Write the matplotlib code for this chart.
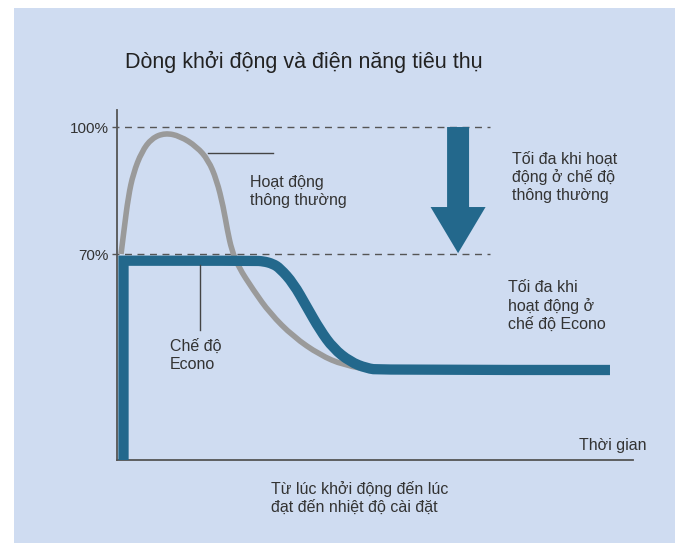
import matplotlib.pyplot as plt
from matplotlib.patches import Rectangle, PathPatch
from matplotlib.path import Path

plt.rcParams['font.family'] = ['Liberation Sans', 'DejaVu Sans']

# time axis 0..100 (arbitrary units), current in % of max
gray_t = [0.78, 1.36, 2.19, 3.16, 4.79, 6.72, 9.30, 12.21, 15.45, 17.69, 19.32,
          20.60, 21.38, 22.23, 23.51, 26.41, 29.65, 34.17, 39.34, 43.86, 47.09]
gray_v = [70.0, 75.67, 83.54, 89.06, 94.17, 97.33, 98.6, 97.87, 95.35, 92.20, 87.48,
          81.17, 75.67, 70.94, 67.00, 61.50, 55.99, 50.47, 46.14, 43.78, 43.07]

econo_t = [1.26, 1.26, 26.5, 28.35, 30.2, 31.59, 34.17, 36.76, 39.34, 41.92, 45.16,
           48.39, 50.97, 95.54]
econo_v = [21.34, 68.42, 68.42, 68.30, 67.70, 66.62, 63.08, 57.55, 52.05, 47.72, 44.56,
           43.00, 42.60, 42.60]

ytick_vals = [70, 100]
ytick_labels = ['70%', '100%']

title = 'Dòng khởi động và điện năng tiêu thụ'
bg = '#cfdcf1'
blue = '#23688c'
grey = '#9a9a9a'
txt = '#333333'


def smooth_path(xs, ys, straight=0):
    # first `straight` segments are plain lines, the rest quadratic curves
    pts = list(zip(xs, ys))
    verts = [pts[0]]
    codes = [Path.MOVETO]
    for p in pts[1:straight + 1]:
        verts.append(p)
        codes.append(Path.LINETO)
    rest = pts[straight:]
    for i in range(1, len(rest) - 1):
        mid = ((rest[i][0] + rest[i + 1][0]) / 2, (rest[i][1] + rest[i + 1][1]) / 2)
        if i == len(rest) - 2:
            mid = rest[-1]
        verts += [rest[i], mid]
        codes += [Path.CURVE3, Path.CURVE3]
    return Path(verts, codes)


fig = plt.figure(figsize=(6.75, 5.43), dpi=100)
fig.patches.append(Rectangle((14 / 675, 0), 1, 1 - 8 / 543, transform=fig.transFigure,
                             facecolor=bg, edgecolor='none', zorder=-10))

ax = fig.add_axes([117 / 675, 83 / 543, 516 / 675, 350 / 543])
ax.set_facecolor('none')
ax.set_xlim(0, 100)
ax.set_ylim(21.34, 104.02)

# dashed reference lines
for v in ytick_vals:
    ax.plot([-1, 72.3], [v, v], color='#555555', lw=1.0, ls=(0, (5, 4)), clip_on=False, zorder=1)

ax.add_patch(PathPatch(smooth_path(gray_t, gray_v), fill=False, edgecolor=grey, lw=4.0,
                       capstyle='butt', joinstyle='round', zorder=2))
ax.add_patch(PathPatch(smooth_path(econo_t, econo_v, straight=1), fill=False, edgecolor=blue, lw=7.4,
                       capstyle='butt', joinstyle='miter', zorder=3))

# big arrow from 100% to 70%
ax.arrow(66.1, 100, 0, -29.8, width=4.26, head_width=10.66, head_length=10.9,
         length_includes_head=True, color=blue, lw=0, zorder=3)

# leader lines
ax.plot([17.6, 30.2], [93.86, 93.86], color='#444444', lw=1.0, zorder=4)
ax.plot([16.1, 16.1], [67.4, 52.05], color='#444444', lw=1.0, zorder=4)

fs = 11.5
ax.text(25.78, 84.65, 'Hoạt động\nthông thường', fontsize=fs, color=txt, va='center', ha='left', linespacing=1.25)
ax.text(10.27, 46.02, 'Chế độ\nEcono', fontsize=fs, color=txt, va='center', ha='left', linespacing=1.25)
ax.text(76.55, 88.19, 'Tối đa khi hoạt\nđộng ở chế độ\nthông thường', fontsize=fs, color=txt,
        va='center', ha='left', linespacing=1.2)
ax.text(75.78, 57.72, 'Tối đa khi\nhoạt động ở\nchế độ Econo', fontsize=fs, color=txt,
        va='center', ha='left', linespacing=1.2)
ax.text(29.84, 12.36, 'Từ lúc khởi động đến lúc\nđạt đến nhiệt độ cài đặt', fontsize=fs, color=txt,
        va='center', ha='left', linespacing=1.25, clip_on=False)
ax.text(102.7, 24.88, 'Thời gian', fontsize=fs, color=txt, va='center', ha='right', clip_on=False)

fig.text(125 / 675, 1 - 62 / 543, title, fontsize=15.5, color='#222222', va='center', ha='left')

ax.set_yticks(ytick_vals)
ax.set_yticklabels(ytick_labels, fontsize=11, color=txt)
ax.tick_params(axis='y', length=0, pad=6)
ax.set_xticks([])
for s in ['top', 'right']:
    ax.spines[s].set_visible(False)
for s in ['left', 'bottom']:
    ax.spines[s].set_color('#555555')
    ax.spines[s].set_linewidth(1.3)

fig.savefig('out.png', dpi=100)
